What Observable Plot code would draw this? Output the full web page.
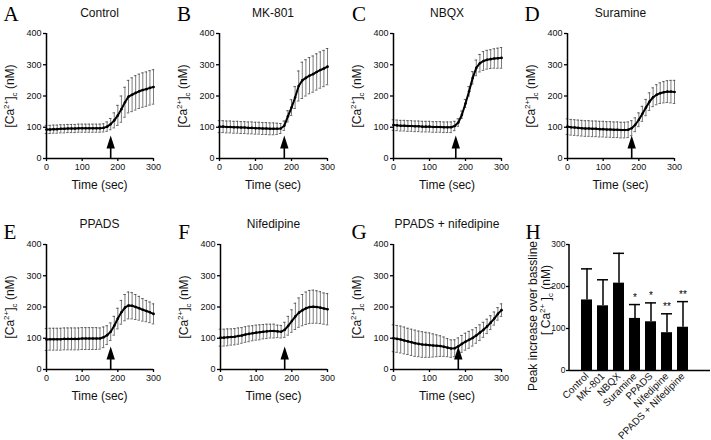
<!DOCTYPE html>
<html>
<head>
<meta charset="utf-8">
<script src="https://cdn.jsdelivr.net/npm/d3@7"></script>
<script src="https://cdn.jsdelivr.net/npm/@observablehq/plot@0.6"></script>
<style>
  html, body { margin: 0; padding: 0; background: #fff; }
  #fig { position: relative; width: 711px; height: 440px; background: #fff; overflow: hidden;
         font-family: "Liberation Sans", Arial, sans-serif; font-weight: 400; color: #111; }
  .lbl { position: absolute; white-space: nowrap; line-height: 1; font-weight: 400; transform: translate(-50%, -50%); }
  .rot { transform: translate(-50%, -50%) rotate(-90deg); }
  .letter { font-family: "Liberation Serif", "Times New Roman", serif; font-size: 21px; color: #000; }
  sup, sub { font-size: 8px; line-height: 0; }
  .panel { position: absolute; }
</style>
</head>
<body>
<div id="fig"></div>
<script>
// ---------- data ----------
const times = [0,10,20,30,40,50,60,70,80,90,100,110,120,130,140,150,160,170,180,190,200,210,220,230,240,250,260,270,280,290,300];

const controlMean = [93,93,94,94,95,95,96,96,96,97,97,97,97,97,97,97,98,102,110,122,138,158,180,198,204,210,215,219,222,226,229];
const controlSD   = [13,13,13,13,13,13,13,13,13,13,13,13,13,13,13,13,13,15,18,24,32,42,48,52,54,55,55,55,55,55,55];

const mk801Mean = [102,102,101,101,100,100,99,99,98,98,97,97,96,96,95,95,95,96,105,135,163,195,232,250,258,265,270,277,283,288,294];
const mk801SD   = [19,19,19,19,19,19,19,19,19,19,19,19,19,19,19,19,18,16,15,18,25,35,48,58,58,58,58,58,58,58,58];

const nbqxMean = [107,106,105,105,104,104,103,103,102,102,102,101,101,101,100,100,100,104,115,140,176,215,258,290,305,312,316,318,320,321,322];
const nbqxSD   = [17,17,17,17,17,17,17,17,17,17,17,17,17,17,17,17,17,15,12,12,13,15,20,25,28,30,30,30,31,32,33];

const suramineMean = [102,100,99,98,97,96,96,95,95,94,94,93,93,92,92,91,91,92,97,108,124,143,163,182,196,204,209,212,214,214,213];
const suramineSD   = [25,25,25,25,25,25,25,25,25,25,25,25,25,25,25,25,25,25,24,22,22,24,26,28,30,32,33,34,35,36,37];

const ppadsMean = [96,97,97,97,97,98,98,98,98,98,99,99,99,99,99,99,103,110,121,140,163,183,198,205,204,200,196,191,187,183,178];
const ppadsSD   = [35,35,35,35,35,35,35,35,35,35,35,35,35,35,35,34,33,30,28,30,33,38,42,43,42,40,38,36,34,33,32];

const nifMean = [102,102,103,104,105,107,109,112,114,116,118,119,121,122,123,123,122,121,127,140,155,170,182,190,196,200,201,200,198,195,193];
const nifSD   = [27,27,27,26,26,26,25,25,25,24,24,24,23,23,22,22,20,20,24,30,36,42,47,50,52,53,53,52,51,50,50];

const ppnMean = [100,98,96,93,90,87,84,82,80,79,78,77,76,75,73,70,67,68,74,82,89,95,101,109,118,127,138,150,163,178,190];
const ppnSD   = [43,43,43,43,42,42,42,41,41,40,39,37,35,33,31,29,28,27,27,27,27,27,26,25,25,24,23,22,21,20,20];

const xTicks = [0, 100, 200, 300];
const yTicks = [0, 100, 200, 300, 400];

const barCategories = ["Control","MK-801","NBQX","Suramine","PPADS","Nifedipine","PPADS + Nifedipine"];
const barValues = [168, 154, 208, 124, 116, 90, 103];
const barErrors = [74, 62, 71, 33, 45, 45, 61];
const barSignif = ["", "", "", "*", "*", "**", "**"];
const barYTicks = [0, 100, 200, 300];

// ---------- helpers ----------
const fig = document.getElementById("fig");
function label(html, x, y, size, cls = "") {
  const d = document.createElement("div");
  d.className = "lbl " + cls;
  d.style.left = x + "px";
  d.style.top = y + "px";
  if (size) d.style.fontSize = size + "px";
  d.innerHTML = html;
  fig.appendChild(d);
}
const caLabel = '[Ca<sup>2+</sup>]<sub>c</sub> (nM)';
const plotStyle = {fontFamily: "Liberation Sans, Arial, sans-serif", fontSize: "9px", color: "#000", background: "transparent", overflow: "visible"};

// arrow (shaft + filled head) drawn as a dot symbol anchored at the axis
const arrowSymbol = {
  draw(ctx) {
    ctx.moveTo(-0.8, 0); ctx.lineTo(0.8, 0); ctx.lineTo(0.8, -10); ctx.lineTo(4.2, -10);
    ctx.lineTo(0, -23); ctx.lineTo(-4.2, -10); ctx.lineTo(-0.8, -10); ctx.closePath();
  }
};

const panels = [
  {letter:"A", lx:11,  ly:14,  title:"Control",            mean:controlMean,  sd:controlSD,  arrow:180, x0:46,  x1:153, y0:33,  y1:158},
  {letter:"B", lx:184, ly:14,  title:"MK-801",             mean:mk801Mean,    sd:mk801SD,    arrow:180, x0:219, x1:327, y0:33,  y1:158},
  {letter:"C", lx:359, ly:14,  title:"NBQX",               mean:nbqxMean,     sd:nbqxSD,     arrow:173, x0:393, x1:501, y0:33,  y1:158},
  {letter:"D", lx:532, ly:14,  title:"Suramine",           mean:suramineMean, sd:suramineSD, arrow:180, x0:567, x1:674, y0:33,  y1:158},
  {letter:"E", lx:10,  ly:232, title:"PPADS",              mean:ppadsMean,    sd:ppadsSD,    arrow:180, x0:46,  x1:153, y0:244, y1:369},
  {letter:"F", lx:184, ly:232, title:"Nifedipine",         mean:nifMean,      sd:nifSD,      arrow:180, x0:220, x1:327, y0:244, y1:369},
  {letter:"G", lx:359, ly:232, title:"PPADS + nifedipine", mean:ppnMean,      sd:ppnSD,      arrow:180, x0:393, x1:501, y0:244, y1:369}
];

for (const p of panels) {
  const data = times.map((t, i) => ({t, m: p.mean[i], s: p.sd[i]}));
  const mL = 40, mR = 12, mT = 10, mB = 22;
  const chart = Plot.plot({
    width: (p.x1 - p.x0) + mL + mR,
    height: (p.y1 - p.y0) + mT + mB,
    marginLeft: mL, marginRight: mR, marginTop: mT, marginBottom: mB,
    style: plotStyle,
    x: {domain: [0, 300]},
    y: {domain: [0, 400]},
    marks: [
      Plot.ruleX(data, {x: "t", y1: d => d.m - d.s, y2: d => d.m + d.s, stroke: "#444", strokeWidth: 0.7}),
      Plot.ruleY(data, {y: d => d.m + d.s, x1: d => d.t - 3.5, x2: d => d.t + 3.5, stroke: "#444", strokeWidth: 0.8}),
      Plot.ruleY(data, {y: d => d.m - d.s, x1: d => d.t - 3.5, x2: d => d.t + 3.5, stroke: "#444", strokeWidth: 0.8}),
      Plot.line(data, {x: "t", y: "m", stroke: "#000", strokeWidth: 2}),
      Plot.dot(data, {x: "t", y: "m", r: 1.3, fill: "#000"}),
      Plot.axisX({ticks: xTicks, tickSize: 3, tickPadding: 2, tickFormat: d => d, label: null, strokeWidth: 1.3, fill: "#111"}),
      Plot.axisY({ticks: yTicks, tickSize: 3, tickPadding: 2, tickFormat: d => d, label: null, strokeWidth: 1.3, fill: "#111"}),
      Plot.ruleX([0], {stroke: "#000", strokeWidth: 1.5}),
      Plot.ruleY([0], {stroke: "#000", strokeWidth: 1.5}),
      Plot.dot([p.arrow], {x: d => d, y: () => 0, symbol: arrowSymbol, r: 4, fill: "#000", stroke: "none"})
    ]
  });
  chart.classList.add("panel");
  chart.style.left = (p.x0 - mL) + "px";
  chart.style.top = (p.y0 - mT) + "px";
  fig.appendChild(chart);

  const cx = (p.x0 + p.x1) / 2;
  label(p.letter, p.lx, p.ly, null, "letter");
  label(p.title, cx, p.y0 - 20, 12);
  label("Time (sec)", cx, p.y1 + 27, 12);
  label(caLabel, p.x0 - 36, (p.y0 + p.y1) / 2, 12, "rot");
}

// ---------- panel H: bar chart ----------
{
  const hData = barCategories.map((c, i) => ({c, v: barValues[i], e: barErrors[i], s: barSignif[i]}));
  const x0 = 569, x1 = 710, y0 = 244, y1 = 370;
  const mL = 40, mR = 1, mT = 10, mB = 70;
  const leftLine = (index, scales, values, dims) => {
    const l = document.createElementNS("http://www.w3.org/2000/svg", "line");
    l.setAttribute("x1", dims.marginLeft); l.setAttribute("x2", dims.marginLeft);
    l.setAttribute("y1", dims.marginTop); l.setAttribute("y2", dims.height - dims.marginBottom);
    l.setAttribute("stroke", "#000"); l.setAttribute("stroke-width", 1.5);
    return l;
  };
  const chart = Plot.plot({
    width: (x1 - x0) + mL + mR,
    height: (y1 - y0) + mT + mB,
    marginLeft: mL, marginRight: mR, marginTop: mT, marginBottom: mB,
    style: plotStyle,
    x: {domain: barCategories, paddingInner: 0.33, paddingOuter: 0.165, insetLeft: 7.8, insetRight: 18.8},
    y: {domain: [0, 300]},
    marks: [
      Plot.ruleX(hData, {x: "c", y1: "v", y2: d => d.v + d.e, stroke: "#000", strokeWidth: 1.5}),
      Plot.tickY(hData, {x: "c", y: d => d.v + d.e, stroke: "#000", strokeWidth: 1.5}),
      Plot.barY(hData, {x: "c", y: "v", fill: "#000"}),
      Plot.text(hData, {x: "c", y: d => d.v + d.e, text: "s", dy: -4, fontSize: 10, lineAnchor: "bottom", fill: "#000"}),
      Plot.axisX({tickRotate: -45, tickSize: 0, tickPadding: 4, label: null, fontSize: 10, fill: "#111"}),
      Plot.axisY({ticks: barYTicks, tickSize: 3, tickPadding: 1, tickFormat: d => d, label: null, strokeWidth: 1.3, fill: "#111", fontSize: 8.5}),
      Plot.ruleY([0], {stroke: "#000", strokeWidth: 1.5}),
      leftLine
    ]
  });
  chart.classList.add("panel");
  chart.style.left = (x0 - mL) + "px";
  chart.style.top = (y0 - mT) + "px";
  fig.appendChild(chart);

  label("H", 533, 232, null, "letter");
  label("Peak increase over bassline", 533, 316, 12, "rot");
  label('[ Ca<sup>2+</sup> ]<sub>c</sub> (nM)', 546, 300, 12, "rot");
}
</script>
</body>
</html>
